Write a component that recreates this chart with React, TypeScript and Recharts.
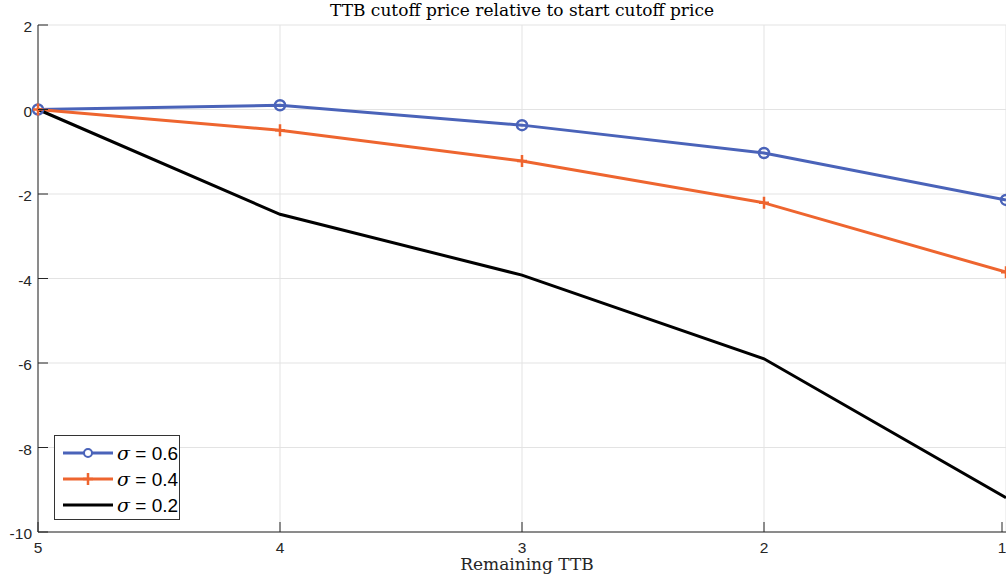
import { LineChart, Line, XAxis, YAxis, CartesianGrid } from "recharts";

// remaining TTB (x axis runs 5 -> 1)
const remaining = [5, 4, 3, 2, 1];
const sigma06 = [0, 0.1, -0.37, -1.03, -2.14];
const sigma04 = [0, -0.49, -1.22, -2.21, -3.85];
const sigma02 = [0, -2.48, -3.92, -5.9, -9.19];
const yTicks = [2, 0, -2, -4, -6, -8, -10];

const BLUE = "#4A63B9";
const ORANGE = "#EE652F";
const BLACK = "#000000";
const SANS = "'Liberation Sans', Arial, sans-serif";
const SERIF = "'DejaVu Serif', 'Liberation Serif', serif";

const data = remaining.map((r, i) => ({
  r,
  s06: sigma06[i],
  s04: sigma04[i],
  s02: sigma02[i],
}));

const series = [
  { key: "s06", label: "0.6", color: BLUE, marker: "circle" },
  { key: "s04", label: "0.4", color: ORANGE, marker: "plus" },
  { key: "s02", label: "0.2", color: BLACK, marker: "none" },
];

function YTick({ x, y, payload }: any) {
  return (
    <g>
      <line x1={x} x2={x + 10} y1={y} y2={y} stroke="#262626" />
      <text x={x - 6} y={y + 7} textAnchor="end" fontSize={15.5} fill="#262626" fontFamily={SANS}>
        {payload.value}
      </text>
    </g>
  );
}

function XTick({ x, y, payload }: any) {
  return (
    <g>
      <line x1={x} x2={x} y1={y} y2={y - 10} stroke="#262626" />
      <text x={x} y={y + 21} textAnchor="middle" fontSize={15.5} fill="#262626" fontFamily={SANS}>
        {payload.value}
      </text>
    </g>
  );
}

function CircleDot({ cx, cy }: any) {
  return <circle cx={cx} cy={cy} r={5} fill="none" stroke={BLUE} strokeWidth={2.5} />;
}

function PlusDot({ cx, cy }: any) {
  return (
    <path d={`M${cx - 5},${cy}H${cx + 5}M${cx},${cy - 6}V${cy + 6}`} stroke={ORANGE} strokeWidth={2.5} />
  );
}

function LegendBox() {
  return (
    <div
      style={{
        position: "absolute",
        left: 54,
        top: 435,
        width: 124,
        height: 79,
        border: "1px solid #333",
        background: "#fff",
        paddingTop: 4,
        boxSizing: "content-box",
      }}
    >
      {series.map((s) => (
        <div key={s.key} style={{ display: "flex", alignItems: "center", height: 26 }}>
          <svg width={56} height={20} style={{ marginLeft: 6 }}>
            <line x1={2} x2={52} y1={10} y2={10} stroke={s.color} strokeWidth={3} />
            {s.marker === "circle" && (
              <circle cx={27} cy={10} r={4} fill="#fff" stroke={s.color} strokeWidth={2} />
            )}
            {s.marker === "plus" && (
              <path d="M22,10H32M27,4V16" stroke={s.color} strokeWidth={2.5} />
            )}
          </svg>
          <span style={{ fontSize: 19, fontFamily: SANS, color: "#000", whiteSpace: "nowrap" }}>
            <i style={{ fontFamily: SERIF }}>σ</i> = {s.label}
          </span>
        </div>
      ))}
    </div>
  );
}

export default function App() {
  return (
    <div style={{ position: "absolute", left: 0, top: 0, width: 1006, height: 585, background: "#fff" }}>
      <LineChart
        width={1006}
        height={585}
        data={data}
        margin={{ top: 25, right: 0, left: 0, bottom: 0 }}
      >
        <text x={522} y={16} textAnchor="middle" fontSize={17} fontFamily={SERIF} fill="#000">
          TTB cutoff price relative to start cutoff price
        </text>
        <text x={527} y={570} textAnchor="middle" fontSize={17} fontFamily={SERIF} fill="#262626">
          Remaining TTB
        </text>
        <CartesianGrid stroke="#e3e3e3" />
        <XAxis
          dataKey="r"
          type="number"
          domain={[1, 5]}
          reversed
          ticks={remaining}
          height={53}
          tickSize={0}
          tickMargin={0}
          tickLine={false}
          tick={<XTick />}
          axisLine={{ stroke: "#262626" }}
        />
        <YAxis
          type="number"
          domain={[-10, 2]}
          ticks={yTicks}
          width={38}
          tickSize={0}
          tickMargin={0}
          tickLine={false}
          tick={<YTick />}
          axisLine={{ stroke: "#262626" }}
        />
        <Line
          dataKey="s06"
          stroke={BLUE}
          strokeWidth={3}
          dot={<CircleDot />}
          isAnimationActive={false}
        />
        <Line
          dataKey="s04"
          stroke={ORANGE}
          strokeWidth={3}
          dot={<PlusDot />}
          isAnimationActive={false}
        />
        <Line dataKey="s02" stroke={BLACK} strokeWidth={3} dot={false} isAnimationActive={false} />
      </LineChart>
      <LegendBox />
    </div>
  );
}
